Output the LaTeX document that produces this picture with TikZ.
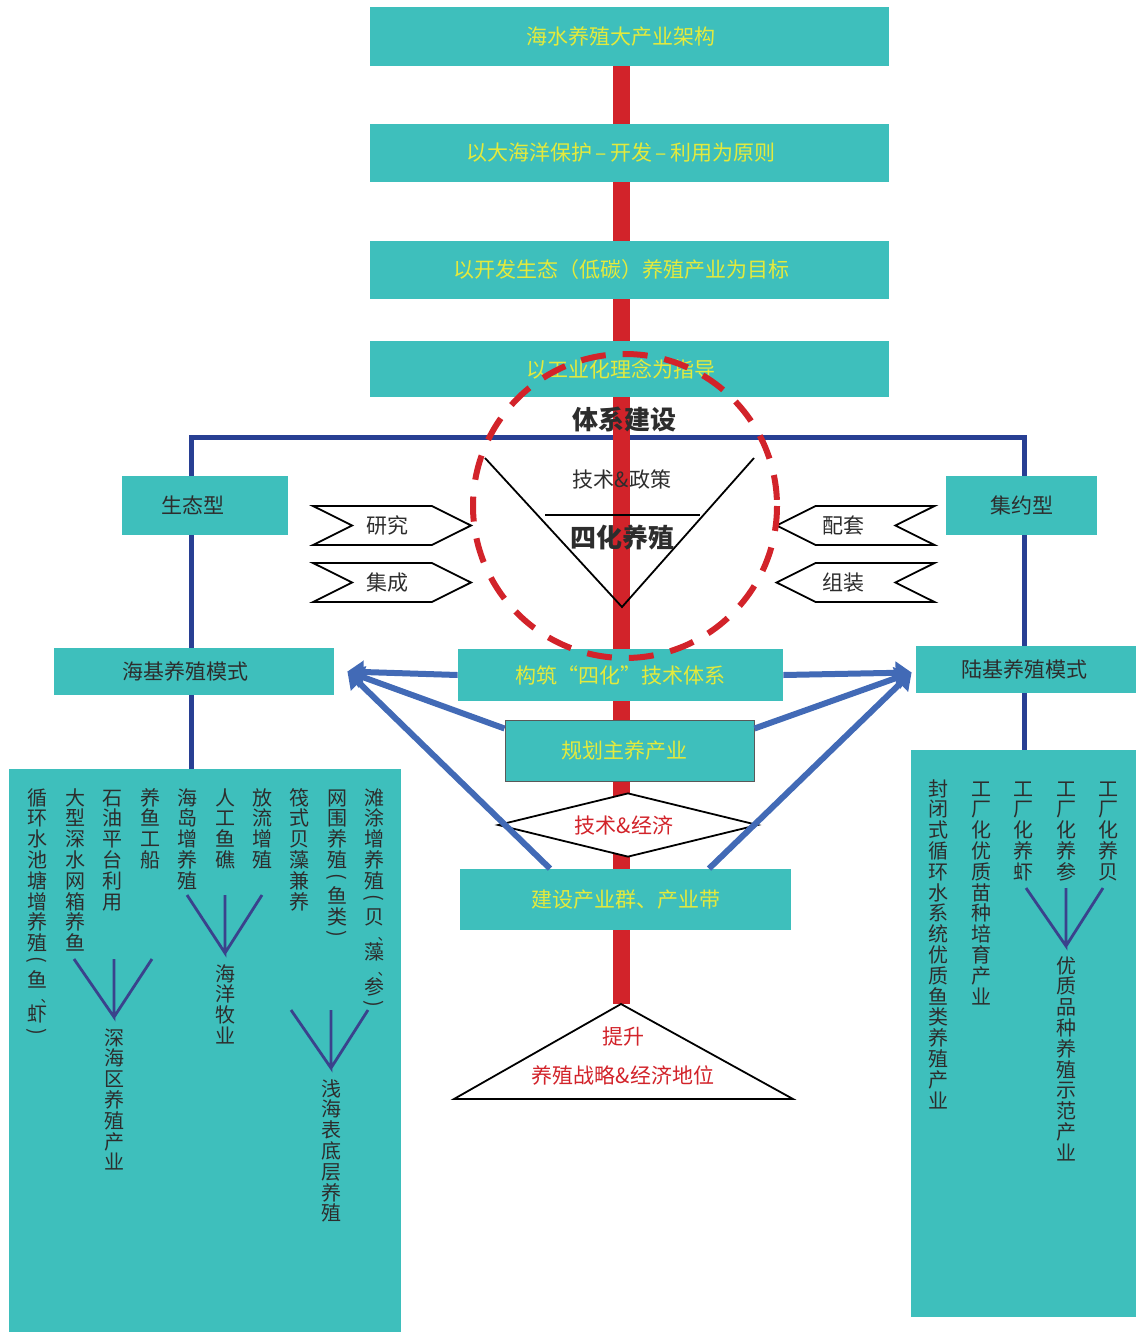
\documentclass[tikz,border=0pt]{standalone}
\usepackage{fontspec}
\usepackage{graphicx}
\newfontfamily\cjk{Noto Sans CJK SC}
\usetikzlibrary{arrows.meta,shapes.geometric,shapes.symbols,backgrounds}

\definecolor{teal0}{RGB}{62,191,188}
\definecolor{yel}{RGB}{228,234,60}
\definecolor{spinered}{RGB}{210,35,42}
\definecolor{navy}{RGB}{40,63,147}
\definecolor{arrowblue}{RGB}{66,106,182}
\definecolor{fanblue}{RGB}{58,66,140}
\definecolor{ink}{RGB}{45,45,45}

% one character under the other
\newcommand\vparen[1]{\kern.15em\hbox to 1.04em{\hss\rotatebox[origin=c]{-90}{#1}\hss}\kern.15em}
\newcommand\vcomma{\hbox to 1.04em{\kern.7em\vrule height .62em depth .08em width 0pt{\fontsize{7}{7}\selectfont 、}\hss}}
\def\vcolA#1{%
  \ifx\relax#1\else
    \ifx(#1\vparen{(}\else
    \ifx)#1\vparen{)}\else
    \ifx、#1\vcomma\else
    \hbox to 1.04em{\hss\vrule height .88em depth .16em width 0pt #1\hss}%
    \fi\fi\fi
    \expandafter\vcolA
  \fi}
\newcommand\vcol[1]{\vbox{\offinterlineskip\vcolA#1\relax}}

\tikzset{
  bar/.style={fill=teal0, text=yel, inner sep=0pt, font=\cjk\fontsize{10.5}{12}\selectfont},
  darkbar/.style={bar, text=ink},
  pool/.style={fill=teal0, inner sep=0pt},
  vtxt/.style={anchor=north, inner sep=0pt, text=ink, font=\cjk\fontsize{10}{10}\selectfont},
  tag/.style={draw=black, fill=white, line width=0.9pt, shape=signal, signal pointer angle=53,
    minimum width=79pt, minimum height=19.5pt, inner sep=0pt, text=ink,
    font=\cjk\fontsize{10.5}{12}\selectfont},
  tagL/.style={tag, signal to=east, signal from=west},
  tagR/.style={tag, signal to=west, signal from=east},
  plain/.style={inner sep=0pt, text=ink, font=\cjk\fontsize{10.5}{12}\selectfont},
  redtxt/.style={inner sep=0pt, text=spinered, font=\cjk\fontsize{10.5}{12}\selectfont},
  spine/.style={line width=8.5pt, draw=spinered},
  tree/.style={line width=2.5pt, draw=navy},
  feed/.style={line width=3pt, draw=arrowblue, -{Triangle[length=8pt,width=11pt]}},
  fan/.style={line width=1.4pt, draw=fanblue},
  outline/.style={line width=0.9pt, draw=black},
}

\begin{document}
\begin{tikzpicture}[x=0.5pt, y=-0.5pt]
\useasboundingbox (0,0) rectangle (1136,1332);
%
\node[bar, minimum width=259.5pt, minimum height=29.5pt] (top) at (629.5,36.5) {\hspace*{-8.5pt}海水养殖大产业架构};
\node[bar, minimum width=259.5pt, minimum height=29pt] (rule) at (629.5,153) {\hspace*{-8.5pt}以大海洋保护\,–\,开发\,–\,利用为原则};
\node[bar, minimum width=259.5pt, minimum height=29pt] (goal) at (629.5,270) {\hspace*{-8.5pt}以开发生态（低碳）养殖产业为目标};
\node[bar, minimum width=259.5pt, minimum height=28pt] (guide) at (629.5,369) {\hspace*{-8.5pt}以工业化理念为指导};
%
\coordinate (apex) at (621,1004);
\coordinate (vtip) at (622,607);
\coordinate (treeL) at (191,437);
\coordinate (treeR) at (1024,437);
%
\node[darkbar, minimum width=83pt, minimum height=29.5pt] (eco) at (205,505.5) {\hspace*{-12pt}生态型};
\node[darkbar, minimum width=75.5pt, minimum height=29.5pt] (intens) at (1021.5,505.5) {集约型};
\node[darkbar, minimum width=140pt, minimum height=23.5pt] (seaMode) at (194,671.5) {\hspace*{-9pt}海基养殖模式};
\node[darkbar, minimum width=110pt, minimum height=23.5pt] (landMode) at (1026,669.5) {\hspace*{-2pt}陆基养殖模式};
\node[pool, minimum width=196pt, minimum height=281.5pt] (seaBox) at (205,1050.5) {};
\node[pool, minimum width=112.5pt, minimum height=283.5pt] (landBox) at (1023.5,1033.5) {};
%
\node[bar, minimum width=162.5pt, minimum height=26pt] (tech) at (620.5,675) {构筑“四化”技术体系};
\node[bar, draw=gray!70!black, line width=0.5pt, minimum width=124.5pt, minimum height=30.5pt] (plan) at (629.5,750.5) {\hspace*{-5.5pt}规划主养产业};
\node[redtxt, shape=diamond, draw=black, fill=white, line width=0.9pt, aspect=4,
  minimum width=130pt, minimum height=32pt] (econ) at (628,825) {\hspace*{-4pt}技术\&经济};
\node[bar, minimum width=165.5pt, minimum height=30.5pt] (build) at (625.5,899.5) {建设产业群、产业带};
%
\begin{pgfonlayer}{background}
\draw[tree] (seaBox.north -| treeL) -- (treeL) -- (treeR) -- (landBox.north -| treeR);
\draw[spine] (top.south -| apex) -- (apex);
\end{pgfonlayer}
%
\node[plain, font=\cjk\bfseries\fontsize{13}{15}\selectfont] (sys) at (624,420) {体系建设};
\draw[outline] (485,458) -- (vtip) -- (754,458);
\draw[outline] (545,515) -- (700,515);
\node[plain] (policy) at (622,479) {技术\&政策};
\node[plain, font=\cjk\bfseries\fontsize{13}{15}\selectfont] (four) at (622,538) {四化养殖};
%
\node[tagL] (study) at (392,525.5) {\hspace*{-5pt}研究};
\node[tagL] (integ) at (392,582.5) {\hspace*{-5pt}集成};
\node[tagR] (match) at (855.5,525.5) {\hspace*{-12.5pt}配套};
\node[tagR] (assem) at (855.5,582.5) {\hspace*{-12.5pt}组装};
%
\draw[spinered, line width=3pt, dash pattern=on 12.5pt off 8.5pt] (625,506) circle[radius=152];
%
\draw[outline, fill=white] (apex) -- (793,1099) -- (454,1099) -- cycle;
\node[redtxt] (rise) at (623,1037) {提升};
\node[redtxt] (rank) at (623,1075) {养殖战略\&经济地位};
%
\draw[feed] (tech.west) -- ([xshift=6.5pt]seaMode.east);
\draw[feed] ([yshift=-4.5pt]plan.north west) -- ([xshift=6.5pt]seaMode.east);
\draw[feed] ([xshift=-37.75pt]build.north) -- ([xshift=6.5pt]seaMode.east);
\draw[feed] (tech.east) -- ([xshift=-2pt,yshift=-1.5pt]landMode.west);
\draw[feed] ([yshift=-4.5pt]plan.north east) -- ([xshift=-2pt,yshift=-1.5pt]landMode.west);
\draw[feed] ([xshift=41.75pt]build.north) -- ([xshift=-2pt,yshift=-1.5pt]landMode.west);
%
\node[vtxt] (s1) at (37,787) {\vcol{循环水池塘增养殖(鱼、虾)}};
\node[vtxt] (s2) at (75,787) {\vcol{大型深水网箱养鱼}};
\node[vtxt] (s3) at (112,787) {\vcol{石油平台利用}};
\node[vtxt] (s4) at (150,787) {\vcol{养鱼工船}};
\node[vtxt] (s5) at (187,787) {\vcol{海岛增养殖}};
\node[vtxt] (s6) at (225,787) {\vcol{人工鱼礁}};
\node[vtxt] (s7) at (262,787) {\vcol{放流增殖}};
\node[vtxt] (s8) at (299,787) {\vcol{筏式贝藻兼养}};
\node[vtxt] (s9) at (337,787) {\vcol{网围养殖(鱼类)}};
\node[vtxt] (s10) at (374,787) {\vcol{滩涂增养殖(贝、藻、参)}};
\node[vtxt] (deep) at (114,1027) {\vcol{深海区养殖产业}};
\node[vtxt] (ranch) at (225,963) {\vcol{海洋牧业}};
\node[vtxt] (shallow) at (331,1078) {\vcol{浅海表底层养殖}};
%
\node[vtxt] (l1) at (938,778) {\vcol{封闭式循环水系统优质鱼类养殖产业}};
\node[vtxt] (l2) at (981,778) {\vcol{工厂化优质苗种培育产业}};
\node[vtxt] (l3) at (1023,778) {\vcol{工厂化养虾}};
\node[vtxt] (l4) at (1066,778) {\vcol{工厂化养参}};
\node[vtxt] (l5) at (1108,778) {\vcol{工厂化养贝}};
\node[vtxt] (demo) at (1066,955) {\vcol{优质品种养殖示范产业}};
%
\coordinate (f1) at ([yshift=5pt]deep.north);
\coordinate (f2) at ([yshift=5pt]ranch.north);
\coordinate (f3) at ([yshift=5pt]shallow.north);
\coordinate (f4) at ([yshift=4.5pt]demo.north);
\draw[fan] (f1) ++(-40,-58) -- (f1) -- ++(0,-58) (f1) -- ++(38,-58);
\draw[fan] (f2) ++(-38,-58) -- (f2) -- ++(0,-58) (f2) -- ++(37,-58);
\draw[fan] (f3) ++(-40,-58) -- (f3) -- ++(0,-58) (f3) -- ++(37,-58);
\draw[fan] (f4) ++(-40,-58) -- (f4) -- ++(0,-58) (f4) -- ++(37,-58);
%
\end{tikzpicture}
\end{document}
